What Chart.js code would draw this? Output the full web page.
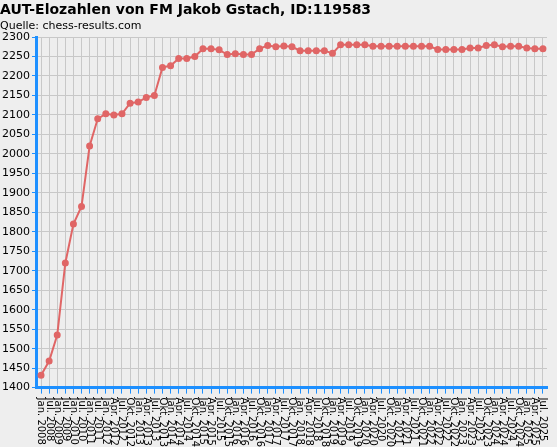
<!DOCTYPE html><html><head><script src="https://cdn.jsdelivr.net/npm/chart.js@4"></script>
<style>body{margin:0;background:#eeeeee}#w{width:557px;height:447px;position:relative}</style></head><body><div id="w"><canvas id="c"></canvas></div>
<script>
const labels=["Jan. 2008","Jul. 2008","Jan. 2009","Jul. 2009","Jan. 2010","Jul. 2010","Jan. 2011","Jul. 2011"];
for(let y=2012;y<=2025;y++)for(const m of["Jan.","Apr.","Jul.","Okt."]){if(y==2025&&m=="Okt.")break;labels.push(m+" "+y);}
const elo=[1432,1468,1535,1720,1820,1865,2020,2090,2103,2100,2103,2130,2133,2145,2150,2222,2226,2245,2245,2250,2270,2270,2267,2255,2257,2255,2255,2270,2278,2275,2277,2275,2265,2265,2265,2265,2258,2280,2280,2280,2280,2276,2276,2276,2276,2276,2276,2276,2276,2268,2268,2268,2268,2272,2272,2278,2280,2275,2276,2276,2272,2270,2270];
const yTicks={min:1400,max:2300,step:50};
const vLabels={id:'vl',afterDraw(ch){const s=ch.scales.x,c=ch.ctx;c.save();c.font='10px DejaVu Sans';c.fillStyle='#000';c.textBaseline='middle';
s.ticks.forEach((t,i)=>{const x=s.getPixelForTick(i);c.save();c.translate(x,s.top+10);c.rotate(Math.PI/2);c.fillText(labels[t.value],0,0);c.restore();});c.restore();}};
new Chart(document.getElementById('c'),{type:'line',data:{labels,datasets:[{data:elo,borderColor:'#e06666',backgroundColor:'#e06666',borderWidth:2,pointRadius:2.5,tension:0}]},
plugins:[vLabels],
options:{responsive:true,maintainAspectRatio:false,animation:false,
layout:{padding:{left:0,right:6,top:0,bottom:0}},
plugins:{legend:{display:false},
title:{display:true,text:'AUT-Elozahlen von FM Jakob Gstach, ID:119583',align:'start',color:'#000',font:{family:'DejaVu Sans',size:14,weight:'bold'},padding:{top:2,bottom:0}},
subtitle:{display:true,text:'Quelle: chess-results.com',align:'start',color:'#000',font:{family:'DejaVu Sans',size:11},padding:{top:1,bottom:4}}},
scales:{x:{offset:true,grid:{color:'#c8c8c8',tickColor:'#1e90ff',tickLength:6,offset:false},border:{color:'#1e90ff',width:3},
ticks:{color:'rgba(0,0,0,0)',font:{family:'DejaVu Sans',size:10},minRotation:90,maxRotation:90,autoSkip:false,padding:2}},
y:{min:yTicks.min,max:yTicks.max,grid:{color:'#c8c8c8',tickColor:'#1e90ff',tickLength:5},border:{color:'#1e90ff',width:3},
ticks:{stepSize:yTicks.step,color:'#000',font:{family:'DejaVu Sans',size:11},padding:2,callback:v=>String(v)}}}}});
</script></body></html>
